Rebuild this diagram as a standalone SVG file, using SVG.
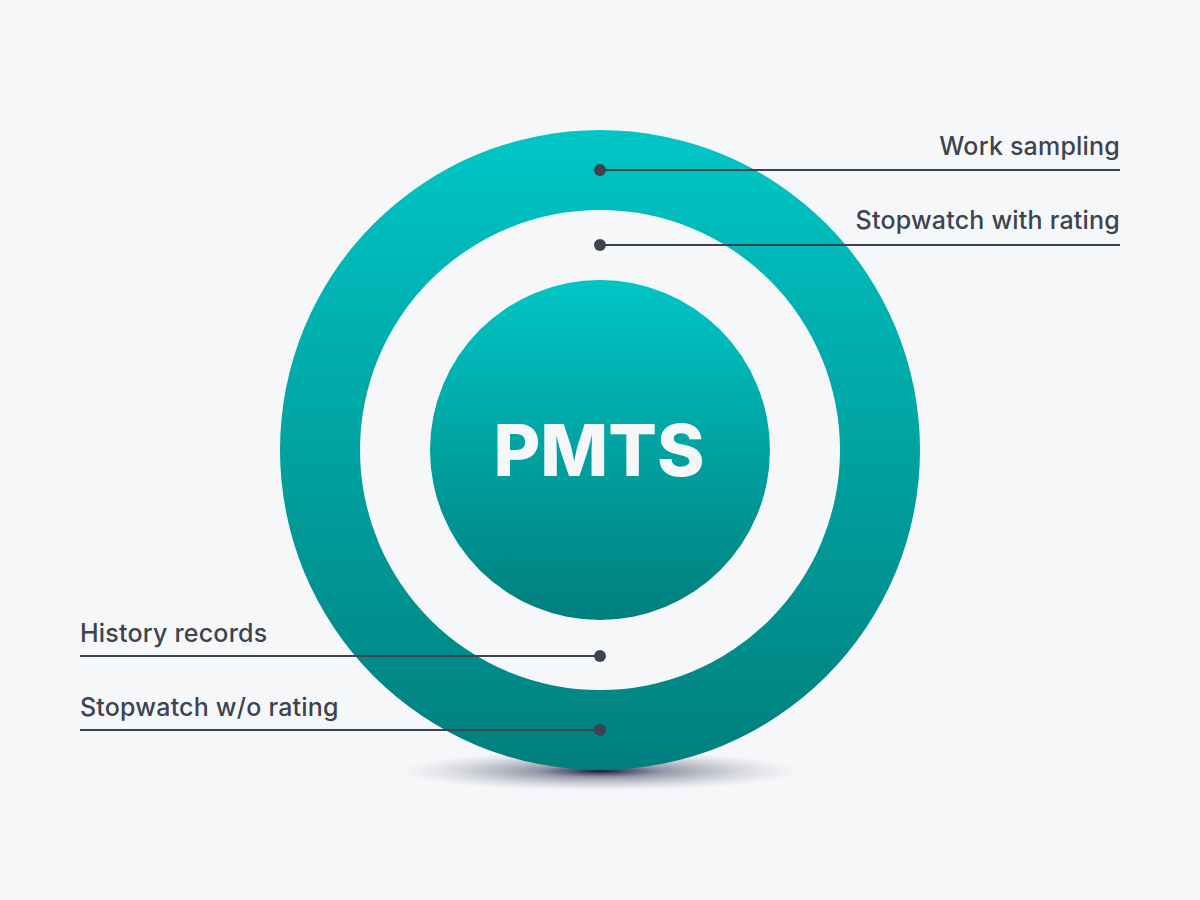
<svg xmlns="http://www.w3.org/2000/svg" width="1200" height="900" viewBox="0 0 1200 900">
<defs>
<linearGradient id="g" x1="0" y1="0" x2="0" y2="1">
<stop offset="0" stop-color="#00C6C6"/>
<stop offset="1" stop-color="#007F7D"/>
</linearGradient>
<radialGradient id="sh" cx="0.5" cy="0.5" r="0.5">
<stop offset="0" stop-color="#14183A" stop-opacity="1"/>
<stop offset="0.3" stop-color="#2E3350" stop-opacity="0.5"/>
<stop offset="1" stop-color="#8A90A0" stop-opacity="0"/>
</radialGradient>
<style>
.lbl{font-family:Inter,"Liberation Sans",sans-serif;font-size:25px;font-weight:500;fill:#3D4450;letter-spacing:0.2px}
.ln{stroke:#3D4450;stroke-width:2;fill:none}
.dot{fill:#3D4450}
</style>
</defs>
<rect width="1200" height="900" fill="#F6F7F9"/>
<ellipse cx="600" cy="771" rx="200" ry="20" fill="url(#sh)"/>
<g id="outer">
<circle cx="600" cy="450" r="320" fill="url(#g)"/>
<circle cx="600" cy="450" r="240" fill="#F6F7F9"/>
</g>
<g id="core">
<circle cx="600" cy="450" r="170" fill="url(#g)"/>
<text x="599" y="476" text-anchor="middle" font-family="Inter,'Liberation Sans',sans-serif" font-weight="800" font-size="72" fill="#F6F7F9">PMTS</text>
</g>
<g id="connectors">
<line class="ln" x1="600" y1="170" x2="1120" y2="170"/>
<line class="ln" x1="600" y1="245" x2="1120" y2="245"/>
<line class="ln" x1="80" y1="656" x2="600" y2="656"/>
<line class="ln" x1="80" y1="730" x2="600" y2="730"/>
</g>
<g id="work-sampling"><circle class="dot" cx="600" cy="170" r="6"/><text class="lbl" x="1120" y="155" text-anchor="end">Work sampling</text></g>
<g id="stopwatch-with-rating"><circle class="dot" cx="600" cy="245" r="6"/><text class="lbl" x="1120" y="229" text-anchor="end">Stopwatch with rating</text></g>
<g id="history-records"><circle class="dot" cx="600" cy="656" r="6"/><text class="lbl" x="80" y="642">History records</text></g>
<g id="stopwatch-wo-rating"><circle class="dot" cx="600" cy="730" r="6"/><text class="lbl" x="80" y="716">Stopwatch w/o rating</text></g>
</svg>
